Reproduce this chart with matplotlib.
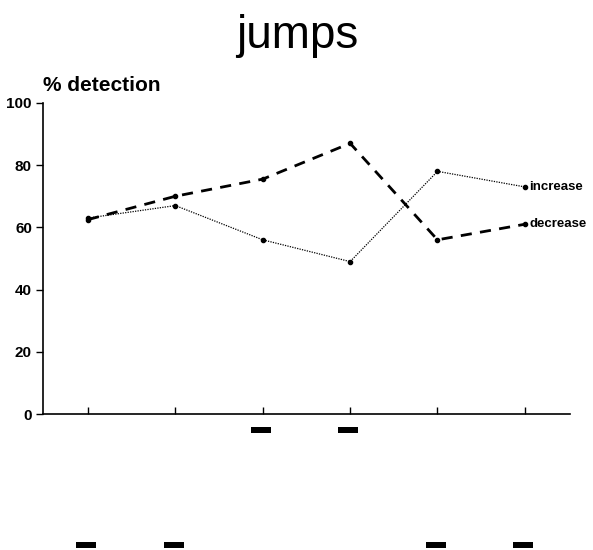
import matplotlib
matplotlib.use('Agg')
import matplotlib.pyplot as plt

plt.rcParams['font.family'] = ['Liberation Sans', 'DejaVu Sans']

positions = [1, 2, 3, 4, 5, 6]
increase = [63, 67, 56, 49, 78, 73]
decrease = [62.5, 70, 75.5, 87, 56, 61]
# stimulus level under each position: 1 = upper row, 2 = lower row
jump_level = [2, 2, 1, 1, 2, 2]
yticks = [0, 20, 40, 60, 80, 100]

fig = plt.figure(figsize=(5.93, 5.5), dpi=100)
ax = fig.add_axes([0.0725, 0.247, 0.8885, 0.566])

ax.plot(positions, decrease, color='black', lw=2, ls=(0, (4, 3)),
        marker='o', ms=3)
ax.plot(positions, increase, color='black', lw=0.9, ls=(0, (1, 1)),
        marker='o', ms=3)

ax.text(positions[-1] + 0.05, increase[-1], 'increase', fontsize=9.5,
        fontweight='bold', va='center', ha='left')
ax.text(positions[-1] + 0.05, decrease[-1], 'decrease', fontsize=9.5,
        fontweight='bold', va='center', ha='left')

# stimulus bars below the axis
row_y = {1: -6.2, 2: -43}
for p, lev in zip(positions, jump_level):
    ax.bar(p - 0.02, 2.0, width=0.23, bottom=row_y[lev], color='black',
           clip_on=False)

ax.set_xlim(0.485, 6.515)
ax.set_ylim(0, 100)
ax.set_xticks(positions)
ax.set_xticklabels([])
ax.set_yticks(yticks)
ax.set_yticklabels([str(v) for v in yticks], fontsize=11, fontweight='bold')
ax.tick_params(axis='x', direction='in', length=5, width=1)
ax.tick_params(axis='y', direction='out', length=5, width=1, pad=3)
ax.spines['top'].set_visible(False)
ax.spines['right'].set_visible(False)
ax.spines['left'].set_linewidth(1.2)
ax.spines['bottom'].set_linewidth(1.2)

ax.text(0.0, 1.025, '% detection', transform=ax.transAxes, fontsize=15,
        fontweight='bold', ha='left', va='bottom')
fig.text(0.502, 0.935, 'jumps', fontsize=33, ha='center', va='center')

fig.savefig('out.png', dpi=100)
